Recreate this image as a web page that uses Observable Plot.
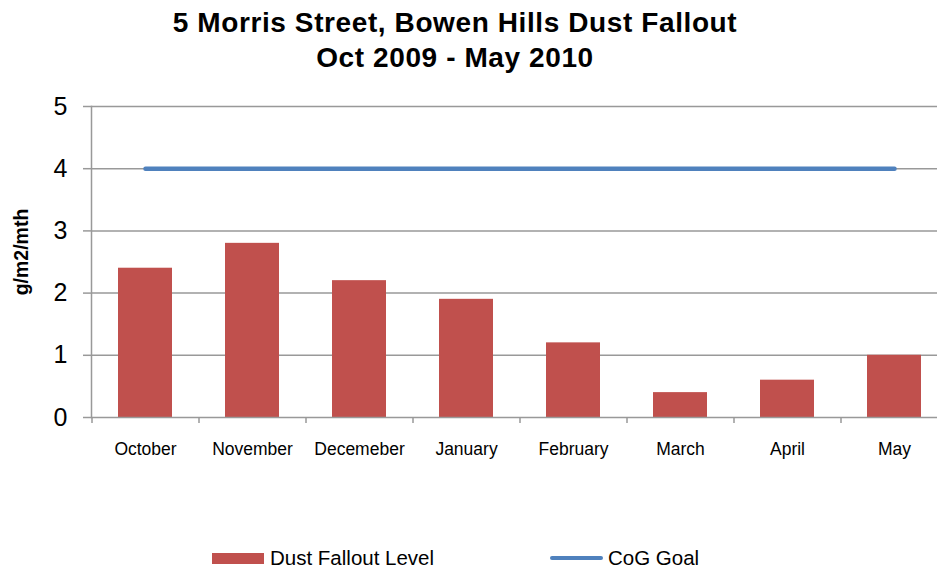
<!DOCTYPE html>
<html>
<head>
<meta charset="utf-8">
<script src="https://cdn.jsdelivr.net/npm/d3@7"></script>
<script src="https://cdn.jsdelivr.net/npm/@observablehq/plot@0.6"></script>
<style>
  html, body { margin: 0; padding: 0; background: #fff; overflow: hidden; width: 937px; height: 569px; }
  body { position: relative; font-family: "Liberation Sans", Arial, sans-serif; }
  #title { position: absolute; left: 0; top: 5px; width: 910px; text-align: center; font-weight: bold; font-size: 28px; line-height: 35px; color: #000; letter-spacing: 0.6px; }
  #chart { position: absolute; left: 0; top: 80px; }
  #chart svg { max-width: none; overflow: visible; }
  #ylabel { position: absolute; left: 21px; top: 252px; transform: translate(-50%, -50%) rotate(-90deg); font-weight: bold; font-size: 19.5px; white-space: nowrap; }
  .legend { position: absolute; top: 546px; font-size: 20.5px; display: flex; align-items: center; white-space: nowrap; }
</style>
</head>
<body>
<div id="title">5 Morris Street, Bowen Hills Dust Fallout<br>Oct 2009 - May 2010</div>
<div id="ylabel">g/m2/mth</div>
<div id="chart"></div>
<div class="legend" style="left:212px"><span style="display:inline-block;width:52px;height:11px;background:#C0504D;margin-right:6px"></span>Dust Fallout Level</div>
<div class="legend" style="left:550px"><span style="display:inline-block;width:53px;height:4px;background:#4F81BD;border-radius:2px;margin-right:5px"></span>CoG Goal</div>
<script>
const months = ["October", "November", "Decemeber", "January", "February", "March", "April", "May"];
const dustFallout = [2.4, 2.8, 2.2, 1.9, 1.2, 0.4, 0.6, 1.0];
const cogGoal = [4, 4, 4, 4, 4, 4, 4, 4];
const yTicks = [0, 1, 2, 3, 4, 5];

const data = months.map((m, i) => ({month: m, dust: dustFallout[i], goal: cogGoal[i]}));
const step = (947 - 91) / months.length;
const grey = "#999";

const plot = Plot.plot({
  width: 947,
  height: 400,
  marginLeft: 91,
  marginRight: 0,
  marginTop: 26,
  marginBottom: 63,
  style: {fontFamily: "Liberation Sans, Arial, sans-serif", background: "transparent"},
  x: {domain: months, paddingInner: 0.5, paddingOuter: 0.25, align: 0.5},
  y: {domain: [0, 5]},
  marks: [
    Plot.ruleY(yTicks.filter(d => d > 0), {stroke: grey, strokeWidth: 1.5, strokeOpacity: 1}),
    Plot.barY(data, {x: "month", y: "dust", fill: "#C0504D"}),
    Plot.lineY(data, {x: "month", y: "goal", stroke: "#4F81BD", strokeWidth: 4.5, strokeLinecap: "round"}),
    Plot.ruleY([0], {stroke: grey, strokeWidth: 1.5}),
    Plot.frame({anchor: "left", stroke: grey, strokeWidth: 1.5}),
    Plot.axisY({ticks: yTicks, tickFormat: "d", tickSize: 8, tickPadding: 16, fontSize: 25, stroke: grey, strokeOpacity: 1, color: "#000", label: null, strokeWidth: 1.5}),
    Plot.axisX({tickSize: 6, dx: -step / 2, tickFormat: () => "", stroke: grey, strokeOpacity: 1, strokeWidth: 1.5, label: null}),
    Plot.axisX({tickSize: 0, tickPadding: 25, fontSize: 17.5, color: "#000", label: null})
  ]
});
document.getElementById("chart").appendChild(plot);
</script>
</body>
</html>
